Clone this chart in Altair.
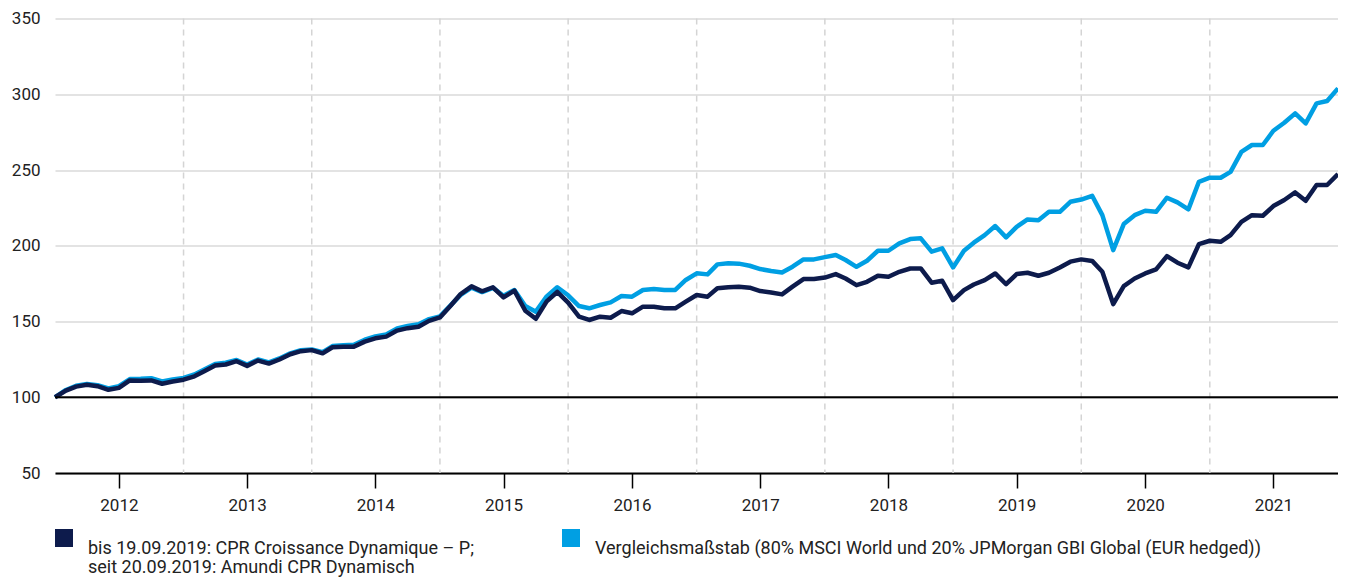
import altair as alt
import pandas as pd

# ---- data (monthly, Jan 2012 = 100) ----
fund = [100, 104.4, 107, 108.2, 107.3, 104.9, 106.2, 111.1, 110.9, 111.1, 108.9, 110.4,
        111.6, 113.8, 117.1, 120.9, 121.6, 123.8, 120.7, 124.2, 122.2, 124.9, 128.4, 130.4,
        131.1, 129.0, 133.0, 133.4, 133.4, 136.7, 138.9, 140.0, 144.0, 145.6, 146.5, 150.4,
        152.7, 160.6, 168.1, 173.2, 169.9, 172.6, 165.9, 170.4, 157.1, 151.8, 163.3, 169.5,
        162.5, 153.2, 151, 153.2, 152.5, 156.9, 155.4, 159.8, 159.8, 158.7, 158.7, 163.1,
        167.5, 166.4, 171.9, 172.6, 173, 172.3, 170.1, 169.2, 167.9, 173, 178, 178,
        179, 181.3, 178.4, 174, 176.2, 180.2, 179.5, 182.8, 185, 185, 175.6, 176.9,
        164.1, 170.7, 174.4, 177.3, 181.7, 174.6, 181.3, 182.2, 180.2, 182.2, 185.7, 189.5,
        191, 190, 182.8, 161.5, 173.4, 178.4, 181.7, 184.4, 193.2, 188.8, 185.7, 201.1,
        203.3, 202.6, 207, 215.8, 220.2, 219.8, 226.2, 230.2, 235.2, 229.7, 240.1, 240.1, 247.3]

bench = [100, 104.8, 107.6, 108.8, 108, 105.8, 107.3, 112, 112.2, 112.6, 110.5, 111.8,
         112.8, 115, 118.3, 122, 122.8, 124.6, 121.6, 124.9, 123, 125.6, 129, 131,
         131.6, 129.8, 133.8, 134.4, 134.6, 138, 140.2, 141.4, 145.4, 147, 148.2, 151.6,
         153.4, 160.8, 167.6, 172.4, 169.4, 172.2, 167, 170.8, 160.2, 156.5, 166.6, 172.6,
         167.3, 160.2, 158.7, 160.9, 162.6, 166.8, 166.4, 170.8, 171.4, 170.8, 170.8, 177.4,
         181.8, 181.1, 187.7, 188.4, 188.2, 186.8, 184.6, 183.3, 182.4, 186.2, 191, 191,
         192.5, 193.9, 190.6, 186.1, 190.1, 196.7, 196.7, 201.6, 204.4, 204.9, 196.1, 198.3,
         185.7, 196.7, 202, 207, 213, 205.5, 212.5, 217.4, 216.9, 222.4, 222.4, 229,
         230.5, 233, 220.2, 197.1, 214.3, 220.2, 223.1, 222.4, 231.7, 228.6, 224, 242.2,
         244.9, 244.9, 248.8, 262, 266.5, 266.5, 275.9, 281.2, 287.4, 280.8, 294, 295.5, 303.9]

dates = pd.date_range("2012-01-01", periods=len(fund), freq="MS")
years = list(range(2012, 2022))
year_boundaries = [pd.Timestamp(f"{y}-01-01") for y in range(2013, 2022)]
tick_dates = [pd.Timestamp(f"{y}-07-01") for y in years]

legend_fund_lines = ["bis 19.09.2019: CPR Croissance Dynamique – P;",
                     "seit 20.09.2019: Amundi CPR Dynamisch"]
legend_bench = "Vergleichsmaßstab (80% MSCI World und 20% JPMorgan GBI Global (EUR hedged))"

DARK = "#0d1b4c"
LIGHT = "#009fe3"
FONT = "Roboto"

df = pd.DataFrame({"date": dates, "fund": fund, "bench": bench})
bdf = pd.DataFrame({"date": year_boundaries})

x_scale = alt.Scale(domain=[pd.Timestamp("2012-01-01").isoformat(), pd.Timestamp("2022-01-01").isoformat()])
y_scale = alt.Scale(domain=[50, 350], nice=False, zero=False)

x_axis = alt.Axis(values=[d.isoformat() for d in tick_dates], format="%Y", title=None,
                  grid=False, domainColor="#000000", domainWidth=2, tickColor="#000000",
                  tickWidth=1.5, tickSize=15, labelPadding=9, labelFontSize=17,
                  labelColor="#222222", labelFont=FONT)
y_axis = alt.Axis(values=list(range(50, 351, 25)), title=None, domain=False, ticks=False,
                  labelExpr="datum.value % 50 == 0 ? datum.label : ''",
                  gridColor="#dadada", gridWidth=1.5, labelPadding=15, labelFontSize=17,
                  labelColor="#222222", labelFont=FONT)

base = alt.Chart(df)

bench_line = base.mark_line(color=LIGHT, strokeWidth=4.5, strokeJoin="round").encode(
    x=alt.X("date:T", scale=x_scale, axis=x_axis),
    y=alt.Y("bench:Q", scale=y_scale, axis=y_axis),
)
fund_line = base.mark_line(color=DARK, strokeWidth=4.5, strokeJoin="round").encode(
    x=alt.X("date:T", scale=x_scale),
    y=alt.Y("fund:Q", scale=y_scale),
)

vrules = alt.Chart(bdf).mark_rule(color="#d4d4d4", strokeWidth=1.5, strokeDash=[6, 5]).encode(
    x=alt.X("date:T", scale=x_scale)
)

base_rule = alt.Chart(pd.DataFrame({"v": [100]})).mark_rule(color="#000000", strokeWidth=2).encode(
    y=alt.Y("v:Q", scale=y_scale)
)

sw1 = alt.Chart(pd.DataFrame({"k": [0]})).mark_square(size=324, color=DARK, opacity=1).encode(
    x=alt.value(9), y=alt.value(519.5))
sw2 = alt.Chart(pd.DataFrame({"k": [0]})).mark_square(size=324, color=LIGHT, opacity=1).encode(
    x=alt.value(516), y=alt.value(519.5))

def txt(s, x, y):
    return alt.Chart(pd.DataFrame({"t": [s]})).mark_text(
        align="left", baseline="alphabetic", font=FONT, fontSize=18, color="#222222"
    ).encode(x=alt.value(x), y=alt.value(y), text="t:N")

t1 = txt(legend_fund_lines[0], 33, 535)
t2 = txt(legend_fund_lines[1], 33, 554.5)
t3 = txt(legend_bench, 540, 535)

chart = alt.layer(vrules, bench_line, fund_line, base_rule, sw1, sw2, t1, t2, t3).properties(
    width=1283, height=454.5,
    padding={"left": 47, "top": 10.5, "right": 0, "bottom": 104},
    autosize=alt.AutoSizeParams(type="none"),
).configure_view(stroke=None)

chart.save("out.html", embed_options={"renderer": "svg", "actions": False})
